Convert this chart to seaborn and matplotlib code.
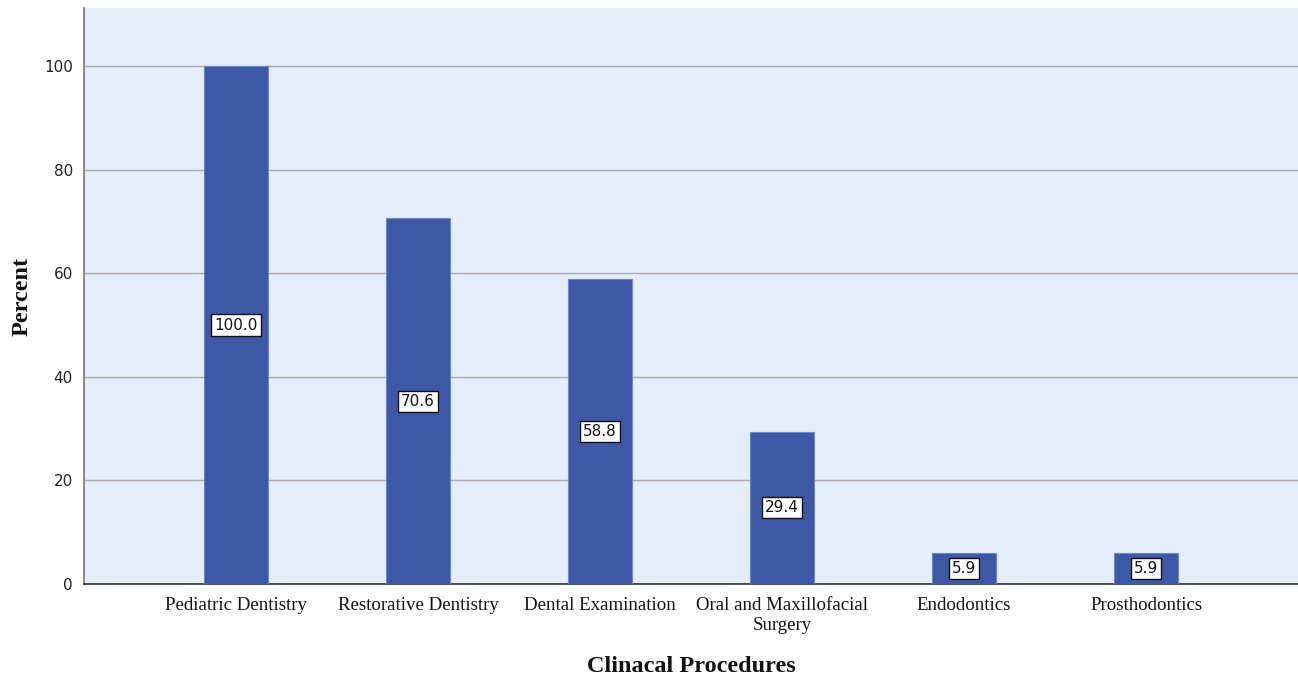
import matplotlib
matplotlib.use("Agg")
import matplotlib.pyplot as plt
import seaborn as sns
import pandas as pd

procedures = ["Pediatric Dentistry", "Restorative Dentistry", "Dental Examination",
              "Oral and Maxillofacial\nSurgery", "Endodontics", "Prosthodontics"]
percent = [100.0, 70.6, 58.8, 29.4, 5.9, 5.9]
y_ticks = [0, 20, 40, 60, 80, 100]

df = pd.DataFrame({"Procedure": procedures, "Percent": percent})

sns.set_style("white")
plt.rcParams["font.family"] = ["Liberation Serif", "DejaVu Serif"]

fig = plt.figure(figsize=(12.98, 6.79), dpi=100)
ax = fig.add_axes([0.0647, 0.1399, 0.9353, 0.8483])
ax.set_facecolor("#E3EEFA")

sns.barplot(data=df, x="Procedure", y="Percent", ax=ax, color="#3E58A8",
            width=0.355, saturation=1, edgecolor="#6F86C8", linewidth=0.8, zorder=3)

ax.set_ylim(0, 111.2)
ax.set_xlim(-0.835, len(procedures) - 1 + 0.835)
ax.set_yticks(y_ticks)
ax.set_yticklabels([str(t) for t in y_ticks], family="DejaVu Sans",
                   fontsize=11, color="#222222")
ax.yaxis.grid(True, color="#AAAAAA", linewidth=1.0, zorder=1)
ax.set_axisbelow(True)
ax.tick_params(axis="x", length=0, pad=9, labelsize=13.6, labelcolor="#111111")
ax.tick_params(axis="y", length=0, pad=8)
for lbl in ax.get_xticklabels():
    lbl.set_linespacing(1.25)

for side in ["top", "right"]:
    ax.spines[side].set_visible(False)
ax.spines["left"].set_color("#777777")
ax.spines["left"].set_linewidth(1.2)
ax.spines["bottom"].set_color("#333333")
ax.spines["bottom"].set_linewidth(1.2)

for i, v in enumerate(percent):
    ax.text(i, v / 2, f"{v:.1f}", ha="center", va="center", fontsize=11,
            family="DejaVu Sans", color="#111111", zorder=5,
            bbox=dict(boxstyle="square,pad=0.2", facecolor="white",
                      edgecolor="#111111", linewidth=1.0))

ax.set_xlabel("Clinacal Procedures", fontsize=17.5, fontweight="bold",
              labelpad=16, color="#111111")
ax.set_ylabel("Percent", fontsize=17.5, fontweight="bold", labelpad=8,
              color="#111111")

fig.savefig("out.png", dpi=100)
